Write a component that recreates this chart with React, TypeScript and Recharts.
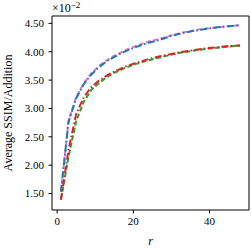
import React from 'react';
import { LineChart, Line, XAxis, YAxis, ReferenceLine } from 'recharts';

// r values sampled along the curves
const rValues = [1, 3, 5, 7, 9, 11, 13, 15, 18, 21, 24, 27, 30, 33, 36, 39, 42, 45, 48];

// average SSIM / addition (x 10^-2)
const pinkSeries = [1.54, 2.79, 3.2, 3.45, 3.62, 3.75, 3.85, 3.93, 4.03, 4.11, 4.18, 4.23, 4.29, 4.34, 4.38, 4.41, 4.43, 4.45, 4.47];
const blueSeries = [1.53, 2.77, 3.18, 3.43, 3.6, 3.73, 3.83, 3.91, 4.01, 4.09, 4.16, 4.21, 4.28, 4.33, 4.37, 4.4, 4.43, 4.45, 4.47];
const greenSeries = [1.4, 2.15, 2.78, 3.12, 3.33, 3.45, 3.55, 3.63, 3.72, 3.79, 3.85, 3.9, 3.95, 3.99, 4.02, 4.05, 4.07, 4.09, 4.11];
const redSeries = [1.39, 2.28, 2.9, 3.2, 3.38, 3.49, 3.58, 3.65, 3.74, 3.81, 3.87, 3.92, 3.96, 4.0, 4.03, 4.06, 4.08, 4.1, 4.11];

const xTicks = [0, 20, 40];
const yTicks = [1.5, 2.0, 2.5, 3.0, 3.5, 4.0, 4.5];
const xDomain = [-1.35, 50.35];
const yDomain = [1.21, 4.63];

const data = rValues.map((r, i) => ({
  r,
  pink: pinkSeries[i],
  blue: blueSeries[i],
  green: greenSeries[i],
  red: redSeries[i],
}));

const FONT = '"Liberation Serif", "DejaVu Serif", serif';
const tickStyle = { fontSize: 11, fill: '#000', fontFamily: FONT };

const YLabel = (props: any) => {
  const vb = props.viewBox || { x: 0, y: 0, height: 0 };
  const cx = 8;
  const cy = vb.y + vb.height / 2;
  return (
    <text
      x={cx}
      y={cy}
      transform={`rotate(-90, ${cx}, ${cy})`}
      textAnchor="middle"
      dominantBaseline="central"
      fontSize={12}
      fontFamily={FONT}
      fill="#000"
    >
      Average SSIM/Addition
    </text>
  );
};

const App: React.FC = () => {
  return (
    <div style={{ position: 'relative', width: 251, height: 249, background: '#fff' }}>
      <style>{`body { margin: 0; }`}</style>
      <LineChart width={251} height={249} data={data} margin={{ top: 16, right: 2, bottom: 0, left: 0 }}>
        <XAxis
          dataKey="r"
          type="number"
          domain={xDomain}
          ticks={xTicks}
          allowDataOverflow
          height={39}
          tick={tickStyle}
          tickSize={3.5}
          tickMargin={4}
          axisLine={{ stroke: '#000', strokeWidth: 1 }}
          tickLine={{ stroke: '#000' }}
          label={{ value: 'r', position: 'insideBottom', offset: 4, fontSize: 12, fontStyle: 'italic', fontFamily: FONT, fill: '#000' }}
        />
        <YAxis
          type="number"
          domain={yDomain}
          ticks={yTicks}
          allowDataOverflow
          width={52}
          tick={tickStyle}
          tickSize={3.5}
          tickMargin={4.5}
          tickFormatter={(v: number) => v.toFixed(2)}
          axisLine={{ stroke: '#000', strokeWidth: 1 }}
          tickLine={{ stroke: '#000' }}
          label={<YLabel />}
        />
        {/* top and right spines */}
        <ReferenceLine y={yDomain[1]} stroke="#000" strokeWidth={1} />
        <ReferenceLine x={xDomain[1]} stroke="#000" strokeWidth={1} />
        <Line dataKey="pink" stroke="#e377c2" strokeWidth={2} strokeDasharray="5 2.5" dot={false} isAnimationActive={false} />
        <Line dataKey="blue" stroke="#1f77b4" strokeWidth={2} strokeDasharray="7 2.5 1.5 2.5" dot={false} isAnimationActive={false} />
        <Line dataKey="green" stroke="#2ca02c" strokeWidth={2} strokeDasharray="5 2.5" dot={false} isAnimationActive={false} />
        <Line dataKey="red" stroke="#d62728" strokeWidth={2} strokeDasharray="7 2.5 1.5 2.5" dot={false} isAnimationActive={false} />
      </LineChart>
      <div
        style={{
          position: 'absolute',
          left: 52,
          top: 1,
          fontFamily: FONT,
          fontSize: 12,
          lineHeight: '14px',
          color: '#000',
        }}
      >
        ×10<sup style={{ fontSize: 9, verticalAlign: 'top', position: 'relative', top: -3 }}>−2</sup>
      </div>
    </div>
  );
};

export default App;
